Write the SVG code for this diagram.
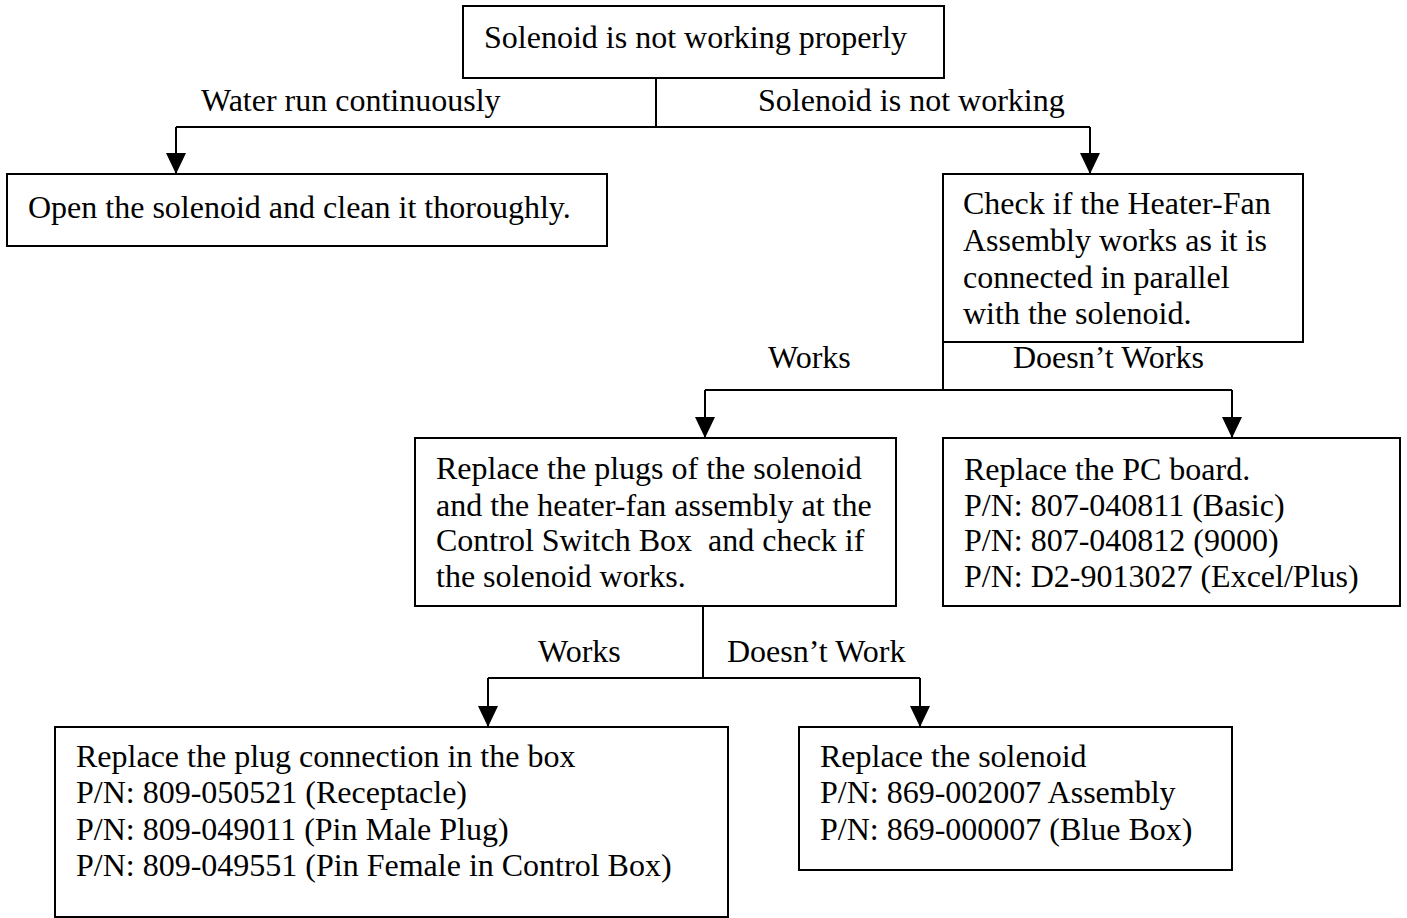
<svg xmlns="http://www.w3.org/2000/svg" width="1407" height="918" viewBox="0 0 1407 918">
<defs>
<style>
.box{fill:#fff;stroke:#000;stroke-width:2}
.t{font-family:"Liberation Serif","Times New Roman",serif;font-size:32px;fill:#000}
.c{fill:none;stroke:#000;stroke-width:2}
</style>
<marker id="ah" markerUnits="userSpaceOnUse" markerWidth="21" markerHeight="20" refX="21" refY="10" orient="auto"><path d="M0,0 L21,10 L0,20 z" fill="#000"/></marker>
</defs>
<rect width="1407" height="918" fill="#fff"/>
<g id="connectors">
<path class="c" d="M656,78 V127"/>
<path class="c" d="M176,127 H1090"/>
<path class="c" d="M176,127 V174" marker-end="url(#ah)"/>
<path class="c" d="M1090,127 V174" marker-end="url(#ah)"/>
<path class="c" d="M943,342 V390"/>
<path class="c" d="M705,390 H1232"/>
<path class="c" d="M705,390 V438" marker-end="url(#ah)"/>
<path class="c" d="M1232,390 V438" marker-end="url(#ah)"/>
<path class="c" d="M703,606 V678"/>
<path class="c" d="M488,678 H920"/>
<path class="c" d="M488,678 V727" marker-end="url(#ah)"/>
<path class="c" d="M920,678 V727" marker-end="url(#ah)"/>
<text class="t" x="201" y="111">Water run continuously</text>
<text class="t" x="758" y="111">Solenoid is not working</text>
<text class="t" x="768" y="368">Works</text>
<text class="t" x="1013" y="368">Doesn’t Works</text>
<text class="t" x="538" y="662">Works</text>
<text class="t" x="727" y="662">Doesn’t Work</text>
</g>
<g id="start">
<rect class="box" x="463" y="6" width="481" height="72"/>
<text class="t" x="484" y="48">Solenoid is not working properly</text>
</g>
<g id="clean">
<rect class="box" x="7" y="174" width="600" height="72"/>
<text class="t" x="28" y="218">Open the solenoid and clean it thoroughly.</text>
</g>
<g id="check">
<rect class="box" x="943" y="174" width="360" height="168"/>
<text class="t" x="963" y="214">Check if the Heater-Fan</text>
<text class="t" x="963" y="251">Assembly works as it is</text>
<text class="t" x="963" y="288">connected in parallel</text>
<text class="t" x="963" y="324">with the solenoid.</text>
</g>
<g id="plugs">
<rect class="box" x="415" y="438" width="481" height="168"/>
<text class="t" x="436" y="479">Replace the plugs of the solenoid</text>
<text class="t" x="436" y="516">and the heater-fan assembly at the</text>
<text class="t" x="436" y="551" xml:space="preserve">Control Switch Box  and check if</text>
<text class="t" x="436" y="587">the solenoid works.</text>
</g>
<g id="pcboard">
<rect class="box" x="943" y="438" width="457" height="168"/>
<text class="t" x="964" y="480">Replace the PC board.</text>
<text class="t" x="964" y="516">P/N: 807-040811 (Basic)</text>
<text class="t" x="964" y="551">P/N: 807-040812 (9000)</text>
<text class="t" x="964" y="587">P/N: D2-9013027 (Excel/Plus)</text>
</g>
<g id="plugconn">
<rect class="box" x="55" y="727" width="673" height="190"/>
<text class="t" x="76" y="767">Replace the plug connection in the box</text>
<text class="t" x="76" y="803">P/N: 809-050521 (Receptacle)</text>
<text class="t" x="76" y="840">P/N: 809-049011 (Pin Male Plug)</text>
<text class="t" x="76" y="876">P/N: 809-049551 (Pin Female in Control Box)</text>
</g>
<g id="solenoid">
<rect class="box" x="799" y="727" width="433" height="143"/>
<text class="t" x="820" y="767">Replace the solenoid</text>
<text class="t" x="820" y="803">P/N: 869-002007 Assembly</text>
<text class="t" x="820" y="840">P/N: 869-000007 (Blue Box)</text>
</g>
</svg>
